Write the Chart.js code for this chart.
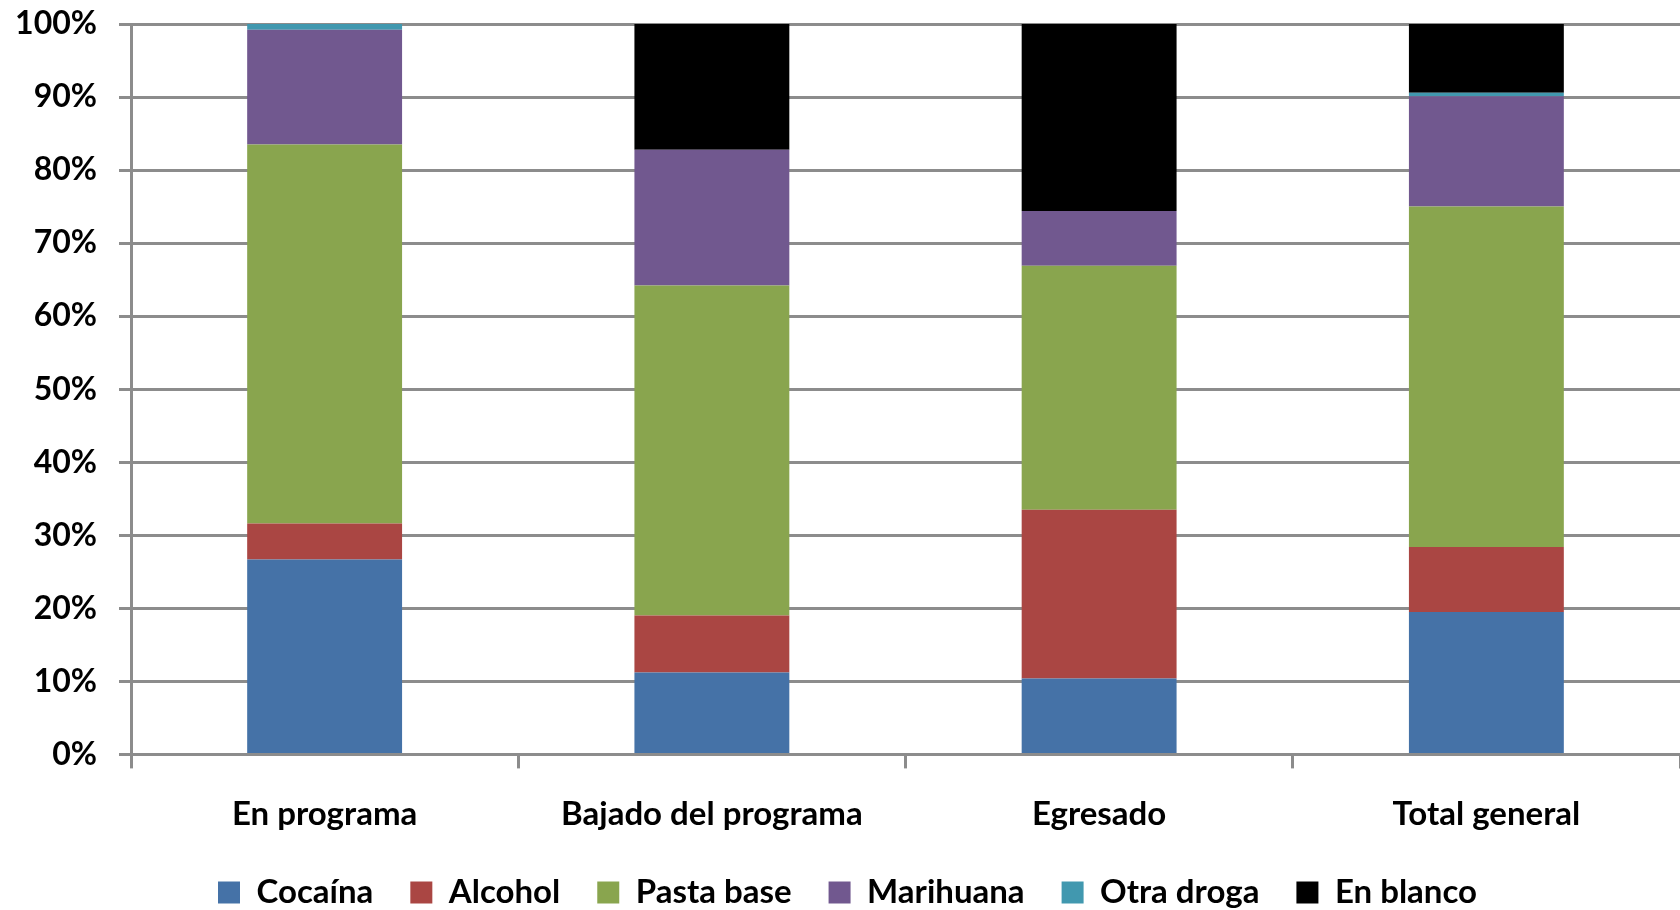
<!DOCTYPE html>
<html>
<head>
<meta charset="utf-8">
<title>Droga principal por estado</title>
<script src="https://cdn.jsdelivr.net/npm/chart.js@4/dist/chart.umd.min.js"></script>
<style>
  html, body { margin: 0; padding: 0; background: #fff; }
  #wrap { width: 1680px; height: 910px; position: relative; }
</style>
</head>
<body>
<div id="wrap"><canvas id="drugChart"></canvas></div>
<script>
// categories and series (percent of each group)
const categories = ['En programa', 'Bajado del programa', 'Egresado', 'Total general'];
const cocaina   = [26.7, 11.2, 10.4, 19.5];
const alcohol   = [4.9, 7.8, 23.1, 8.9];
const pastaBase = [51.9, 45.2, 33.4, 46.6];
const marihuana = [15.7, 18.6, 7.5, 15.1];
const otraDroga = [0.8, 0, 0, 0.5];
const enBlanco  = [0, 17.2, 25.6, 9.4];
const yTicks = [0, 10, 20, 30, 40, 50, 60, 70, 80, 90, 100];

const gridGray = '#8c8c8c';
const font = { family: 'Lato', size: 33, weight: 'bold' };
const yFont = { family: 'Lato', size: 32, weight: 'bold' };

function makeSet(label, data, color) {
    return {
        label: label,
        data: data,
        backgroundColor: color,
        borderWidth: 0,
        barPercentage: 0.4,
        categoryPercentage: 1.0
    };
}

document.addEventListener('DOMContentLoaded', function() {
    const ctx = document.getElementById('drugChart').getContext('2d');
    new Chart(ctx, {
        type: 'bar',
        data: {
            labels: categories,
            datasets: [
                makeSet('Cocaína', cocaina, '#4572A7'),
                makeSet('Alcohol', alcohol, '#AA4643'),
                makeSet('Pasta base', pastaBase, '#89A54E'),
                makeSet('Marihuana', marihuana, '#71588F'),
                makeSet('Otra droga', otraDroga, '#4198AF'),
                makeSet('En blanco', enBlanco, '#000000')
            ]
        },
        options: {
            responsive: true,
            maintainAspectRatio: false,
            animation: false,
            layout: { padding: { left: 15, right: 0, top: 0, bottom: -9 } },
            plugins: {
                tooltip: { enabled: false },
                legend: {
                    position: 'bottom',
                    labels: {
                        boxWidth: 22,
                        boxHeight: 22,
                        padding: 37,
                        color: '#000',
                        font: font
                    }
                }
            },
            scales: {
                x: {
                    stacked: true,
                    afterFit: function(axis) {
                        axis.height -= 21;
                    },
                    grid: {
                        drawOnChartArea: false,
                        offset: true,
                        color: gridGray,
                        lineWidth: 3,
                        tickLength: 14
                    },
                    border: { display: true, color: gridGray, width: 3 },
                    ticks: { color: '#000', font: font, padding: 26 }
                },
                y: {
                    stacked: true,
                    min: 0,
                    max: 100,
                    afterBuildTicks: function(axis) {
                        axis.ticks = yTicks.map(v => ({ value: v }));
                    },
                    afterFit: function(axis) {
                        axis.width = 116;
                        axis.paddingTop = 24;
                        axis.paddingBottom = 0;
                    },
                    grid: { color: gridGray, lineWidth: 3, tickLength: 12 },
                    border: { display: true, color: gridGray, width: 3 },
                    ticks: {
                        color: '#000',
                        font: yFont,
                        padding: 22,
                        callback: v => v + '%'
                    }
                }
            }
        }
    });
});
</script>
</body>
</html>
